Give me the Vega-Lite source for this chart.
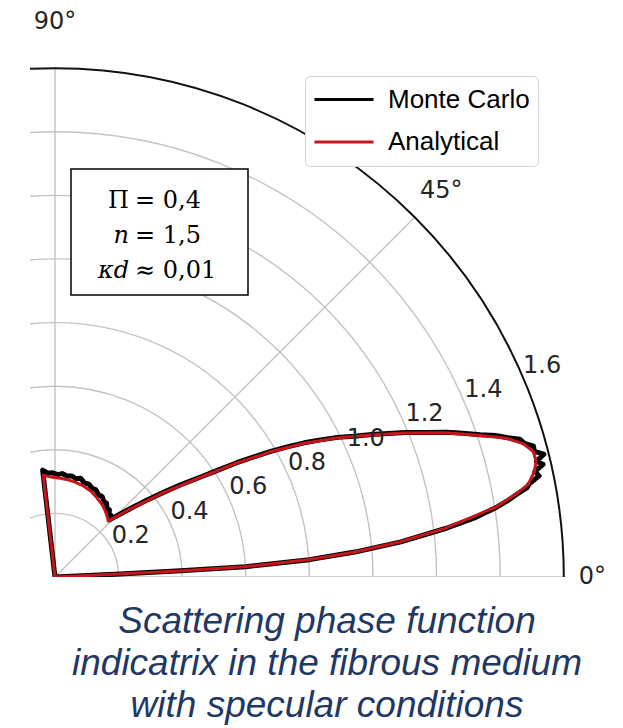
{
  "$schema": "https://vega.github.io/schema/vega-lite/v6.json",
  "width": 545,
  "height": 527,
  "autosize": {"type": "none"},
  "padding": {"left": 30, "top": 50, "right": 48, "bottom": 151},
  "background": "white",
  "config": {"view": {"stroke": null}},
  "title": {
    "text": ["Scattering phase function", "indicatrix in the fibrous medium", "with specular conditions"],
    "orient": "bottom",
    "anchor": "middle",
    "frame": "group",
    "offset": 15,
    "dx": 24.5,
    "font": "Liberation Sans",
    "fontSize": 37,
    "fontStyle": "italic",
    "fontWeight": "normal",
    "color": "#1f3864",
    "lineHeight": 42
  },
  "datasets": {
    "curves": [
      {"series": "Monte Carlo", "theta": 0, "r": 0},
      {"series": "Monte Carlo", "theta": 2.6, "r": 0.205},
      {"series": "Monte Carlo", "theta": 2.8, "r": 0.395},
      {"series": "Monte Carlo", "theta": 3.1, "r": 0.6},
      {"series": "Monte Carlo", "theta": 3.9, "r": 0.802},
      {"series": "Monte Carlo", "theta": 4.75, "r": 0.946},
      {"series": "Monte Carlo", "theta": 5.8, "r": 1.093},
      {"series": "Monte Carlo", "theta": 7.1, "r": 1.24},
      {"series": "Monte Carlo", "theta": 8.0, "r": 1.33},
      {"series": "Monte Carlo", "theta": 9.0, "r": 1.408},
      {"series": "Monte Carlo", "theta": 9.6, "r": 1.445},
      {"series": "Monte Carlo", "theta": 10.2, "r": 1.478},
      {"series": "Monte Carlo", "theta": 10.7, "r": 1.51},
      {"series": "Monte Carlo", "theta": 11.1, "r": 1.52},
      {"series": "Monte Carlo", "theta": 11.8, "r": 1.555},
      {"series": "Monte Carlo", "theta": 12.4, "r": 1.545},
      {"series": "Monte Carlo", "theta": 13.0, "r": 1.575},
      {"series": "Monte Carlo", "theta": 13.5, "r": 1.557},
      {"series": "Monte Carlo", "theta": 14.1, "r": 1.585},
      {"series": "Monte Carlo", "theta": 14.7, "r": 1.558},
      {"series": "Monte Carlo", "theta": 15.3, "r": 1.56},
      {"series": "Monte Carlo", "theta": 15.9, "r": 1.535},
      {"series": "Monte Carlo", "theta": 16.5, "r": 1.525},
      {"series": "Monte Carlo", "theta": 17.1, "r": 1.49},
      {"series": "Monte Carlo", "theta": 17.8, "r": 1.455},
      {"series": "Monte Carlo", "theta": 18.5, "r": 1.41},
      {"series": "Monte Carlo", "theta": 19.4, "r": 1.36},
      {"series": "Monte Carlo", "theta": 20.3, "r": 1.313},
      {"series": "Monte Carlo", "theta": 21.3, "r": 1.252},
      {"series": "Monte Carlo", "theta": 22.4, "r": 1.193},
      {"series": "Monte Carlo", "theta": 23.3, "r": 1.14},
      {"series": "Monte Carlo", "theta": 24.2, "r": 1.093},
      {"series": "Monte Carlo", "theta": 25.2, "r": 1.04},
      {"series": "Monte Carlo", "theta": 26.3, "r": 0.991},
      {"series": "Monte Carlo", "theta": 27.3, "r": 0.94},
      {"series": "Monte Carlo", "theta": 28.3, "r": 0.89},
      {"series": "Monte Carlo", "theta": 29.2, "r": 0.84},
      {"series": "Monte Carlo", "theta": 30.2, "r": 0.785},
      {"series": "Monte Carlo", "theta": 31.2, "r": 0.728},
      {"series": "Monte Carlo", "theta": 32.2, "r": 0.673},
      {"series": "Monte Carlo", "theta": 33.2, "r": 0.615},
      {"series": "Monte Carlo", "theta": 34.3, "r": 0.562},
      {"series": "Monte Carlo", "theta": 36.0, "r": 0.5},
      {"series": "Monte Carlo", "theta": 37.8, "r": 0.438},
      {"series": "Monte Carlo", "theta": 40.0, "r": 0.374},
      {"series": "Monte Carlo", "theta": 42.1, "r": 0.324},
      {"series": "Monte Carlo", "theta": 44.2, "r": 0.282},
      {"series": "Monte Carlo", "theta": 46.4, "r": 0.248},
      {"series": "Monte Carlo", "theta": 48.0, "r": 0.262},
      {"series": "Monte Carlo", "theta": 49.5, "r": 0.262},
      {"series": "Monte Carlo", "theta": 51.0, "r": 0.272},
      {"series": "Monte Carlo", "theta": 52.8, "r": 0.27},
      {"series": "Monte Carlo", "theta": 55.0, "r": 0.283},
      {"series": "Monte Carlo", "theta": 57.0, "r": 0.282},
      {"series": "Monte Carlo", "theta": 59.5, "r": 0.293},
      {"series": "Monte Carlo", "theta": 62.3, "r": 0.293},
      {"series": "Monte Carlo", "theta": 65.0, "r": 0.303},
      {"series": "Monte Carlo", "theta": 67.0, "r": 0.302},
      {"series": "Monte Carlo", "theta": 70.0, "r": 0.311},
      {"series": "Monte Carlo", "theta": 72.7, "r": 0.31},
      {"series": "Monte Carlo", "theta": 75.5, "r": 0.321},
      {"series": "Monte Carlo", "theta": 78.0, "r": 0.316},
      {"series": "Monte Carlo", "theta": 80.5, "r": 0.322},
      {"series": "Monte Carlo", "theta": 83.3, "r": 0.32},
      {"series": "Monte Carlo", "theta": 86.0, "r": 0.326},
      {"series": "Monte Carlo", "theta": 88.5, "r": 0.322},
      {"series": "Monte Carlo", "theta": 91.3, "r": 0.328},
      {"series": "Monte Carlo", "theta": 94.0, "r": 0.327},
      {"series": "Monte Carlo", "theta": 96.6, "r": 0.338},
      {"series": "Monte Carlo", "theta": 96.7, "r": 0},
      {"series": "Analytical", "theta": 0, "r": 0},
      {"series": "Analytical", "theta": 2.6, "r": 0.2},
      {"series": "Analytical", "theta": 2.8, "r": 0.391},
      {"series": "Analytical", "theta": 3.1, "r": 0.596},
      {"series": "Analytical", "theta": 3.9, "r": 0.798},
      {"series": "Analytical", "theta": 4.75, "r": 0.943},
      {"series": "Analytical", "theta": 5.8, "r": 1.089},
      {"series": "Analytical", "theta": 7.1, "r": 1.236},
      {"series": "Analytical", "theta": 9.0, "r": 1.403},
      {"series": "Analytical", "theta": 10.2, "r": 1.473},
      {"series": "Analytical", "theta": 11.1, "r": 1.517},
      {"series": "Analytical", "theta": 12.4, "r": 1.543},
      {"series": "Analytical", "theta": 13.5, "r": 1.556},
      {"series": "Analytical", "theta": 14.7, "r": 1.555},
      {"series": "Analytical", "theta": 15.9, "r": 1.531},
      {"series": "Analytical", "theta": 17.1, "r": 1.484},
      {"series": "Analytical", "theta": 18.5, "r": 1.404},
      {"series": "Analytical", "theta": 20.3, "r": 1.308},
      {"series": "Analytical", "theta": 22.4, "r": 1.189},
      {"series": "Analytical", "theta": 24.2, "r": 1.089},
      {"series": "Analytical", "theta": 26.3, "r": 0.987},
      {"series": "Analytical", "theta": 28.3, "r": 0.886},
      {"series": "Analytical", "theta": 30.2, "r": 0.781},
      {"series": "Analytical", "theta": 32.2, "r": 0.669},
      {"series": "Analytical", "theta": 34.3, "r": 0.558},
      {"series": "Analytical", "theta": 37.8, "r": 0.434},
      {"series": "Analytical", "theta": 42.1, "r": 0.32},
      {"series": "Analytical", "theta": 46.4, "r": 0.243},
      {"series": "Analytical", "theta": 49.5, "r": 0.252},
      {"series": "Analytical", "theta": 52.8, "r": 0.261},
      {"series": "Analytical", "theta": 57.0, "r": 0.272},
      {"series": "Analytical", "theta": 62.3, "r": 0.282},
      {"series": "Analytical", "theta": 67.0, "r": 0.292},
      {"series": "Analytical", "theta": 72.7, "r": 0.3},
      {"series": "Analytical", "theta": 78.0, "r": 0.305},
      {"series": "Analytical", "theta": 83.3, "r": 0.309},
      {"series": "Analytical", "theta": 87.0, "r": 0.311},
      {"series": "Analytical", "theta": 91.3, "r": 0.314},
      {"series": "Analytical", "theta": 96.6, "r": 0.322},
      {"series": "Analytical", "theta": 96.7, "r": 0}
    ],
    "rings": [{"r": 0.2}, {"r": 0.4}, {"r": 0.6}, {"r": 0.8}, {"r": 1.0}, {"r": 1.2}, {"r": 1.4}],
    "spine": [{"r": 1.6}],
    "spokes": [{"angle": 0}, {"angle": 45}, {"angle": 90}],
    "rticks": [
      {"v": 0.2, "label": "0.2"}, {"v": 0.4, "label": "0.4"}, {"v": 0.6, "label": "0.6"}, {"v": 0.8, "label": "0.8"},
      {"v": 1.0, "label": "1.0"}, {"v": 1.2, "label": "1.2"}, {"v": 1.4, "label": "1.4"}, {"v": 1.6, "label": "1.6"}
    ],
    "tticks": [{"angle": 0, "label": "0°"}, {"angle": 45, "label": "45°"}, {"angle": 90, "label": "90°"}],
    "note": [
      {"line": 1, "lhs": "Π", "rhs": "= 0,4"},
      {"line": 2, "lhs": "n", "rhs": "= 1,5"},
      {"line": 3, "lhs": "κd", "rhs": "≈ 0,01"}
    ]
  },
  "layer": [
    {
      "data": {"name": "rings"},
      "transform": [{"calculate": "0", "as": "cx"}, {"calculate": "0", "as": "cy"}],
      "mark": {"type": "point", "shape": "circle", "filled": false, "color": "#c3c3c3", "strokeWidth": 1.4, "opacity": 1, "clip": true},
      "encoding": {
        "x": {"field": "cx", "type": "quantitative", "scale": {"domain": [-0.078616, 1.63522], "nice": false, "zero": false}, "axis": null},
        "y": {"field": "cy", "type": "quantitative", "scale": {"domain": [0, 1.657233], "nice": false, "zero": false}, "axis": null},
        "size": {"field": "r", "type": "quantitative", "scale": {"type": "pow", "exponent": 2, "domain": [0, 1.6], "range": [0, 1035510], "zero": true, "nice": false}, "legend": null}
      }
    },
    {
      "data": {"name": "spokes"},
      "transform": [
        {"calculate": "0", "as": "cx"},
        {"calculate": "0", "as": "cy"},
        {"calculate": "1.6*cos(datum.angle*PI/180)", "as": "ex"},
        {"calculate": "1.6*sin(datum.angle*PI/180)", "as": "ey"}
      ],
      "mark": {"type": "rule", "color": "#c3c3c3", "strokeWidth": 1.4, "clip": true},
      "encoding": {
        "x": {"field": "cx", "type": "quantitative"},
        "y": {"field": "cy", "type": "quantitative"},
        "x2": {"field": "ex"},
        "y2": {"field": "ey"}
      }
    },
    {
      "data": {"name": "spine"},
      "transform": [{"calculate": "0", "as": "cx"}, {"calculate": "0", "as": "cy"}],
      "mark": {"type": "point", "shape": "circle", "filled": false, "color": "#111111", "strokeWidth": 2, "opacity": 1, "clip": true},
      "encoding": {
        "x": {"field": "cx", "type": "quantitative"},
        "y": {"field": "cy", "type": "quantitative"},
        "size": {"field": "r", "type": "quantitative", "legend": null}
      }
    },
    {
      "data": {"name": "curves"},
      "transform": [
        {"filter": "datum.series == 'Monte Carlo'"},
        {"calculate": "datum.r*cos(datum.theta*PI/180)", "as": "px"},
        {"calculate": "datum.r*sin(datum.theta*PI/180)", "as": "py"}
      ],
      "mark": {"type": "line", "strokeWidth": 5, "strokeJoin": "round", "strokeCap": "round", "clip": true},
      "encoding": {
        "x": {"field": "px", "type": "quantitative"},
        "y": {"field": "py", "type": "quantitative"},
        "order": {"field": "theta", "type": "quantitative"},
        "color": {
          "field": "series", "type": "nominal",
          "scale": {"domain": ["Monte Carlo", "Analytical"], "range": ["#000000", "#c8151b"]},
          "legend": {
            "orient": "none", "legendX": 275, "legendY": 26, "title": null,
            "symbolType": "stroke", "symbolSize": 3481, "symbolStrokeWidth": 3,
            "labelFont": "Liberation Sans", "labelFontSize": 26, "labelColor": "#000000",
            "labelOffset": 13, "labelLimit": 400, "padding": 8, "rowPadding": 11.5, "clipHeight": 31,
            "fillColor": "#ffffff", "strokeColor": "#d4d4d4", "cornerRadius": 5
          }
        }
      }
    },
    {
      "data": {"name": "curves"},
      "transform": [
        {"filter": "datum.series == 'Analytical'"},
        {"calculate": "datum.r*cos(datum.theta*PI/180)", "as": "px"},
        {"calculate": "datum.r*sin(datum.theta*PI/180)", "as": "py"}
      ],
      "mark": {"type": "line", "strokeWidth": 3, "strokeJoin": "round", "strokeCap": "round", "clip": true},
      "encoding": {
        "x": {"field": "px", "type": "quantitative"},
        "y": {"field": "py", "type": "quantitative"},
        "order": {"field": "theta", "type": "quantitative"},
        "color": {"field": "series", "type": "nominal"}
      }
    },
    {
      "data": {"name": "rticks"},
      "transform": [
        {"calculate": "datum.v*cos(22.5*PI/180)", "as": "tx"},
        {"calculate": "datum.v*sin(22.5*PI/180)", "as": "ty"}
      ],
      "mark": {"type": "text", "font": "DejaVu Sans", "fontSize": 24, "color": "#262626", "align": "center", "baseline": "middle", "dx": 17, "dy": -16.7},
      "encoding": {
        "x": {"field": "tx", "type": "quantitative"},
        "y": {"field": "ty", "type": "quantitative"},
        "text": {"field": "label", "type": "nominal"}
      }
    },
    {
      "data": {"name": "tticks"},
      "transform": [
        {"calculate": "1.69 + datum.angle*0.00061", "as": "rr"},
        {"calculate": "datum.rr*cos(datum.angle*PI/180)", "as": "tx"},
        {"calculate": "datum.rr*sin(datum.angle*PI/180)", "as": "ty"}
      ],
      "mark": {"type": "text", "font": "DejaVu Sans", "fontSize": 24, "color": "#262626", "align": "center", "baseline": "middle"},
      "encoding": {
        "x": {"field": "tx", "type": "quantitative"},
        "y": {"field": "ty", "type": "quantitative"},
        "text": {"field": "label", "type": "nominal"}
      }
    },
    {
      "data": {"name": "note"},
      "transform": [
        {"filter": "datum.line == 1"},
        {"calculate": "0.0503", "as": "bx1"},
        {"calculate": "0.6069", "as": "bx2"},
        {"calculate": "1.283", "as": "by1"},
        {"calculate": "0.8868", "as": "by2"}
      ],
      "mark": {"type": "rect", "fill": "#ffffff", "stroke": "#000000", "strokeWidth": 1.5},
      "encoding": {
        "x": {"field": "bx1", "type": "quantitative"},
        "x2": {"field": "bx2"},
        "y": {"field": "by1", "type": "quantitative"},
        "y2": {"field": "by2"}
      }
    },
    {
      "data": {"name": "note"},
      "transform": [
        {"calculate": "1.1604 - (datum.line - 1)*0.1101", "as": "ty"},
        {"calculate": "0.2516", "as": "tx"}
      ],
      "mark": {"type": "text", "font": "DejaVu Serif", "fontSize": 24, "color": "#000000", "align": "left", "baseline": "alphabetic"},
      "encoding": {
        "x": {"field": "tx", "type": "quantitative"},
        "y": {"field": "ty", "type": "quantitative"},
        "text": {"field": "rhs", "type": "nominal"}
      }
    },
    {
      "data": {"name": "note"},
      "transform": [
        {"filter": "datum.line == 1"},
        {"calculate": "1.1604 - (datum.line - 1)*0.1101", "as": "ty"},
        {"calculate": "0.2327", "as": "tx"}
      ],
      "mark": {"type": "text", "font": "DejaVu Serif", "fontSize": 24, "color": "#000000", "align": "right", "baseline": "alphabetic"},
      "encoding": {
        "x": {"field": "tx", "type": "quantitative"},
        "y": {"field": "ty", "type": "quantitative"},
        "text": {"field": "lhs", "type": "nominal"}
      }
    },
    {
      "data": {"name": "note"},
      "transform": [
        {"filter": "datum.line > 1"},
        {"calculate": "1.1604 - (datum.line - 1)*0.1101", "as": "ty"},
        {"calculate": "0.2327", "as": "tx"}
      ],
      "mark": {"type": "text", "font": "DejaVu Serif", "fontSize": 24, "fontStyle": "italic", "color": "#000000", "align": "right", "baseline": "alphabetic"},
      "encoding": {
        "x": {"field": "tx", "type": "quantitative"},
        "y": {"field": "ty", "type": "quantitative"},
        "text": {"field": "lhs", "type": "nominal"}
      }
    }
  ]
}
